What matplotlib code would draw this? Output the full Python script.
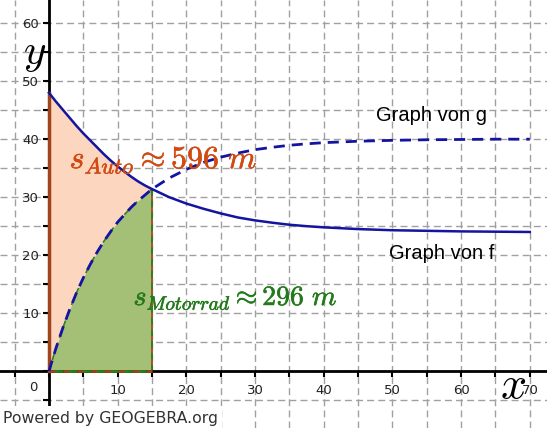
import matplotlib.pyplot as plt
import matplotlib.patheffects as pe
from matplotlib.ticker import FixedLocator, FixedFormatter
import numpy as np

plt.rcParams['mathtext.fontset'] = 'cm'

# Werte
f_x = [0, 1, 2, 3, 4, 5, 6, 7, 8, 9, 10, 11, 12, 13, 14, 15, 17.5, 20, 22.5, 25, 27.5,
       30, 32.5, 35, 37.5, 40, 45, 50, 55, 60, 65, 70]
f_y = [48, 46.5, 45.1, 43.7, 42.3, 41.0, 39.8, 38.6, 37.4, 36.3, 35.3, 34.4, 33.5, 32.7,
       32.0, 31.4, 30.0, 28.9, 28.0, 27.2, 26.5, 26.0, 25.6, 25.25, 25.0, 24.8, 24.5, 24.3,
       24.2, 24.1, 24.05, 24.0]
g_x = [0, 1, 2, 3, 4, 5, 6, 7, 8, 9, 10, 11, 12, 13, 14, 15, 17.5, 20, 22.5, 25, 27.5,
       30, 32.5, 35, 37.5, 40, 45, 50, 55, 60, 65, 70]
g_y = [0, 3.9, 7.4, 10.6, 13.5, 16.1, 18.4, 20.5, 22.4, 24.1, 25.7, 27.0, 28.3, 29.4,
       30.4, 31.4, 33.3, 34.8, 36.0, 36.9, 37.6, 38.2, 38.6, 38.95, 39.2, 39.4, 39.65, 39.8,
       39.9, 39.95, 40.0, 40.0]
t_end = 15
x_ticks = [-5, 0, 5, 10, 15, 20, 25, 30, 35, 40, 45, 50, 55, 60, 65, 70]
y_ticks = [-5, 0, 5, 10, 15, 20, 25, 30, 35, 40, 45, 50, 55, 60]

fx, fy = np.array(f_x), np.array(f_y)
gx, gy = np.array(g_x), np.array(g_y)

fig = plt.figure(figsize=(5.47, 4.28), dpi=100)
ax = fig.add_axes([0, 0, 1, 1])
ax.set_xlim(-7.13, 72.5)
ax.set_ylim(-9.8, 64.0)

# Gitter
ax.xaxis.set_major_locator(FixedLocator(x_ticks))
ax.yaxis.set_major_locator(FixedLocator(y_ticks))
ax.xaxis.set_major_formatter(FixedFormatter([str(v) if v > 0 and v % 10 == 0 else '' for v in x_ticks]))
ax.yaxis.set_major_formatter(FixedFormatter([str(v) if v > 0 and v % 10 == 0 else '' for v in y_ticks]))
ax.grid(True, color='#a0a0a0', linestyle=(0, (5, 3)), linewidth=1)
ax.set_axisbelow(True)

# Achsen im Nullpunkt
for s in ['top', 'right']:
    ax.spines[s].set_visible(False)
for s in ['left', 'bottom']:
    ax.spines[s].set_position('zero')
    ax.spines[s].set_linewidth(2)
    ax.spines[s].set_color('black')
ax.tick_params(direction='out', length=4, width=1.5, labelsize=9.5, labelcolor='#222222')
ax.tick_params(axis='x', pad=5)
ax.tick_params(axis='y', pad=3)
ax.text(-2.3, -2.9, '0', fontsize=9.5, color='#222222', ha='center', va='center')

# Flächen
mf = fx <= t_end
mg = gx <= t_end
ax.fill_between(fx[mf], 0, fy[mf], color='#fdd6c0', zorder=1, linewidth=0)
ax.fill_between(gx[mg], 0, gy[mg], color='#a4bf76', zorder=1.5, linewidth=0)
ax.plot([0, 0], [0, fy[0]], color='#a0441c', lw=2.5, zorder=3)
ax.plot([0, t_end], [0, 0], color='#a0441c', lw=2, linestyle=(0, (3, 2)), zorder=3)
ax.plot([t_end, t_end], [0, gy[mg][-1]], color='#a0441c', lw=1.2, zorder=2)
ax.plot([t_end, t_end], [0, gy[mg][-1]], color='#2e7d1e', lw=1.2, linestyle=(0, (4, 3)), zorder=2.1)
ax.plot([0, t_end], [0, 0], color='#2e7d1e', lw=2, linestyle=(3, (3, 2)), zorder=3)
ax.plot(gx[mg], gy[mg], color='#2e7d1e', lw=1.2, linestyle=(0, (4, 3)), zorder=2)

# Graphen
ax.plot(fx, fy, color='#1414a0', lw=1.8, zorder=4)
ax.plot(gx, gy, color='#1414a0', lw=2, dashes=(4, 2.5), zorder=4)

ax.text(0.788, 0.731, 'Graph von g', transform=ax.transAxes, fontsize=14.5,
        family='Liberation Sans', ha='center', va='center', color='black')
ax.text(0.808, 0.407, 'Graph von f', transform=ax.transAxes, fontsize=14.5,
        family='Liberation Sans', ha='center', va='center', color='black')

ax.text(3.0, 35.0, r'$s_{Auto}\approx 596\ m$', fontsize=23, color='#d04a12', zorder=5,
        path_effects=[pe.withStroke(linewidth=0.4, foreground='#d04a12')])
ax.text(12.3, 11.4, r'$s_{Motorrad}\approx 296\ m$', fontsize=20, color='#237a1a', zorder=5,
        path_effects=[pe.withStroke(linewidth=0.4, foreground='#237a1a')])

ax.text(0.064, 0.876, r'$y$', transform=ax.transAxes, fontsize=31, ha='center', va='center')
ax.text(0.938, 0.1, r'$x$', transform=ax.transAxes, fontsize=33, ha='center', va='center')

ax.text(0.006, 0.023, 'Powered by GEOGEBRA.org', transform=ax.transAxes, fontsize=11.3,
        color='#333333', va='center', ha='left', zorder=6,
        bbox=dict(facecolor='white', edgecolor='none', pad=3))

plt.savefig('out.png', dpi=100)
